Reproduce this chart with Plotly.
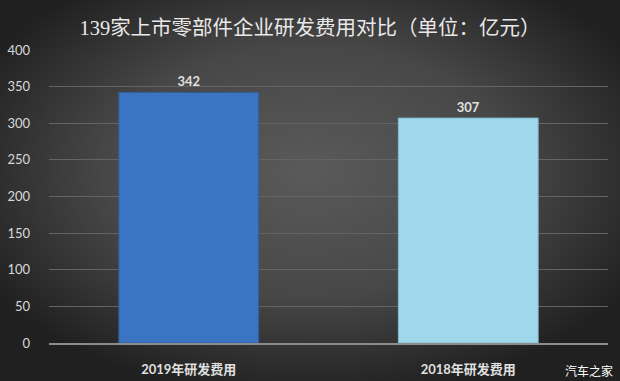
import base64
import plotly.graph_objects as go

categories = ["2019年研发费用", "2018年研发费用"]
values = [342, 307]
bar_colors = ["#3b75c2", "#9fd8ea"]
y_ticks = [0, 50, 100, 150, 200, 250, 300, 350, 400]

W, H = 620, 381
ml, mr, mt, mb = 49, 12, 50, 38
pw, ph = W - ml - mr, H - mt - mb

svg = f'''<svg xmlns="http://www.w3.org/2000/svg" width="{W}" height="{H}" viewBox="0 0 {W} {H}" preserveAspectRatio="none">
<defs><radialGradient id="g" cx="50%" cy="45%" r="60%" fx="50%" fy="45%">
<stop offset="0%" stop-color="#5a5a5a"/><stop offset="55%" stop-color="#474747"/><stop offset="100%" stop-color="#202020"/>
</radialGradient></defs><rect width="{W}" height="{H}" fill="url(#g)"/></svg>'''
bg_src = "data:image/svg+xml;base64," + base64.b64encode(svg.encode()).decode()

fig = go.Figure()
fig.add_trace(go.Bar(
    x=categories, y=values,
    marker=dict(color=bar_colors, line=dict(color=["#2f5f9e", "#7fbfd3"], width=1)),
    width=0.5,
    text=[str(v) for v in values], textposition="outside",
    textfont=dict(family="Lato, Open Sans, sans-serif", size=13, color="#e0e0e0", weight="bold"),
    cliponaxis=False,
))

fig.update_layout(
    width=W, height=H,
    margin=dict(l=ml, r=mr, t=mt, b=mb, autoexpand=False),
    paper_bgcolor="#333333", plot_bgcolor="rgba(0,0,0,0)",
    showlegend=False,
    title=dict(text="139家上市零部件企业研发费用对比（单位：亿元）",
               x=0.5, xanchor="center", y=1 - 28 / H, yanchor="middle",
               font=dict(family="Liberation Serif, Noto Sans CJK SC, serif", size=20.5, color="#e8e8e8")),
    images=[dict(source=bg_src, xref="paper", yref="paper",
                 x=-ml / pw, y=1 + mt / ph, sizex=W / pw, sizey=H / ph,
                 xanchor="left", yanchor="top", sizing="stretch", layer="below")],
    bargap=0.5,
    annotations=[dict(text="汽车之家", xref="paper", yref="paper",
                      x=1 + 7 / pw, y=-27 / ph, xanchor="right", yanchor="middle",
                      showarrow=False, font=dict(family="Noto Sans CJK SC", size=12, color="#ffffff"))],
)
fig.update_yaxes(range=[0, 400], tickvals=y_ticks, showgrid=True, gridcolor="#646464", gridwidth=1,
                 zeroline=False, showline=False, ticks="", automargin=False,
                 tickfont=dict(family="Lato, Open Sans, sans-serif", size=13, color="#d9d9d9"),
                 ticklabelstandoff=18)
fig.update_xaxes(showline=True, linecolor="#8c8c8c", linewidth=2, ticks="", automargin=False,
                 tickfont=dict(family="Lato, Noto Sans CJK SC, sans-serif", size=13, color="#e0e0e0", weight="bold"),
                 ticklabelstandoff=13)

fig.write_html("out.html", config={"displayModeBar": False},
               post_script="document.body.style.margin='0';document.body.style.background='#333';")
